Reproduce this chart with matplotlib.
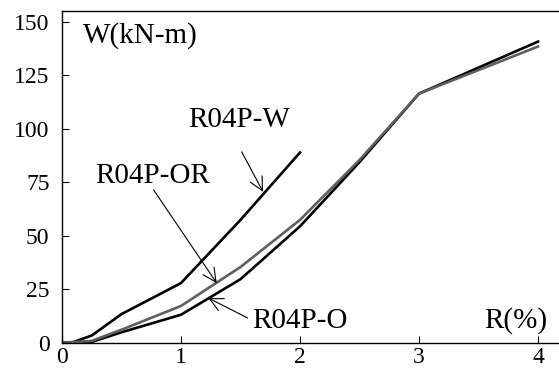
import matplotlib
matplotlib.use("Agg")
import matplotlib.pyplot as plt

r_w = [0, 0.1, 0.25, 0.5, 1.0, 1.5, 2.0]
w_w = [0, 0.5, 3.5, 13.5, 28, 57.5, 89]

r_o = [0, 0.25, 0.5, 1.0, 1.5, 2.0, 2.5, 3.0, 4.0]
w_o = [0, 0.5, 5, 13.2, 29.8, 54.5, 84.5, 116.5, 140.8]

r_or = [0, 0.25, 0.5, 1.0, 1.5, 2.0, 2.5, 3.0, 4.0]
w_or = [0, 1.0, 6.2, 17.3, 35.5, 57.5, 85.5, 116.5, 138.5]

xticks = [0, 1, 2, 3, 4]
yticks = [0, 25, 50, 75, 100, 125, 150]

plt.rcParams['font.family'] = ['Liberation Serif', 'DejaVu Serif']
plt.rcParams['font.size'] = 17

fig = plt.figure(figsize=(5.59, 3.72), dpi=100)
ax = fig.add_axes([62/559, 1-343/372, 1-62/559, (343-11)/372])

ax.plot(r_w, w_w, color='black', lw=1.9)
ax.plot(r_o, w_o, color='black', lw=1.9)
ax.plot(r_or, w_or, color='#5f5f5f', lw=1.9)

ax.set_xlim(0, (559-62)/119)
ax.set_ylim(0, 155.1)
ax.set_xticks(xticks)
ax.set_yticks(yticks)
ax.tick_params(direction='in', length=5, width=0.8)
ax.tick_params(axis='y', pad=9)
ax.tick_params(axis='x', pad=3)
ax.spines['right'].set_visible(False)
for s in ['left', 'top', 'bottom']:
    ax.spines[s].set_linewidth(1.0)

fs = 21
ax.text(0.176, 140.2, 'W(kN-m)', ha='left', va='baseline', fontsize=fs)
ax.text(3.55, 7.0, 'R(%)', ha='left', va='baseline', fontsize=fs)
ax.text(1.06, 100.9, 'R04P-W', ha='left', va='baseline', fontsize=fs)
ax.text(0.28, 74.8, 'R04P-OR', ha='left', va='baseline', fontsize=fs)
ax.text(1.6, 7.0, 'R04P-O', ha='left', va='baseline', fontsize=fs)

arrow = dict(arrowstyle='->', color='black', lw=0.8, mutation_scale=24, shrinkA=0, shrinkB=0)
ax.annotate('', xy=(1.69, 70.6), xytext=(1.51, 89.3), arrowprops=arrow)
ax.annotate('', xy=(1.30, 28), xytext=(0.77, 71.5), arrowprops=arrow)
ax.annotate('', xy=(1.23, 21), xytext=(1.56, 11.7), arrowprops=arrow)

fig.savefig('out.png', dpi=100)
